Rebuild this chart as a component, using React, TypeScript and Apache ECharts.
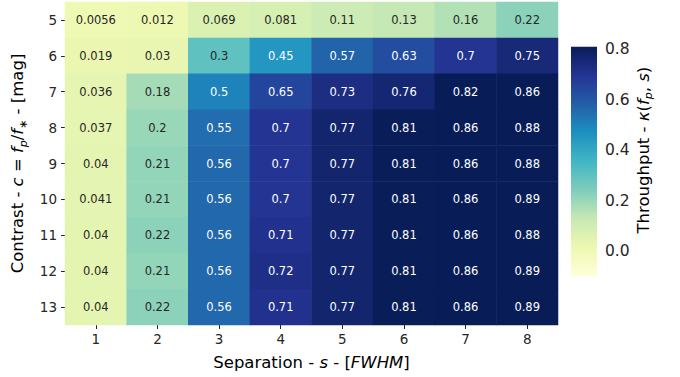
import React, { useEffect, useRef } from "react";
import * as echarts from "echarts";

const separations = ["1", "2", "3", "4", "5", "6", "7", "8"];
const contrasts = ["5", "6", "7", "8", "9", "10", "11", "12", "13"];
const throughput: number[][] = [
  [0.0056, 0.012, 0.069, 0.081, 0.11, 0.13, 0.16, 0.22],
  [0.019, 0.03, 0.3, 0.45, 0.57, 0.63, 0.7, 0.75],
  [0.036, 0.18, 0.5, 0.65, 0.73, 0.76, 0.82, 0.86],
  [0.037, 0.2, 0.55, 0.7, 0.77, 0.81, 0.86, 0.88],
  [0.04, 0.21, 0.56, 0.7, 0.77, 0.81, 0.86, 0.88],
  [0.041, 0.21, 0.56, 0.7, 0.77, 0.81, 0.86, 0.89],
  [0.04, 0.22, 0.56, 0.71, 0.77, 0.81, 0.86, 0.88],
  [0.04, 0.21, 0.56, 0.72, 0.77, 0.81, 0.86, 0.89],
  [0.04, 0.22, 0.56, 0.71, 0.77, 0.81, 0.86, 0.89],
];
const vMin = -0.1;
const vMax = 0.81;
const ylgnbu = [
  "#ffffd9", "#edf8b1", "#c7e9b4", "#7fcdbb", "#41b6c4",
  "#1d91c0", "#225ea8", "#253494", "#081d58",
];

const FONT = "DejaVu Sans";
const DARK = "#262626";
const MAP_MAX = 1.0;

function cellColor(v: number): string {
  const t = Math.min(1, Math.max(0, (v - vMin) / (vMax - vMin)));
  return echarts.color.lerp(t, ylgnbu) as string;
}
function luminance(c: string): number {
  const arr = echarts.color.parse(c) as number[];
  const lin = arr.slice(0, 3).map((x) => {
    const s = x / 255;
    return s <= 0.03928 ? s / 12.92 : Math.pow((s + 0.055) / 1.055, 2.4);
  });
  return 0.2126 * lin[0] + 0.7152 * lin[1] + 0.0722 * lin[2];
}
function fmt(v: number): string {
  return parseFloat(v.toPrecision(2)).toString();
}

const richBase = (size: number, sub: number) => ({
  n: { fontSize: size, fontFamily: FONT, color: "#000", lineHeight: 22 },
  i: { fontSize: size, fontFamily: FONT, color: "#000", fontStyle: "italic", lineHeight: 22 },
  s: {
    fontSize: sub,
    fontFamily: FONT,
    color: "#000",
    fontStyle: "italic",
    lineHeight: 12,
    verticalAlign: "bottom",
  },
});

export default function App() {
  const ref = useRef<HTMLDivElement>(null);
  useEffect(() => {
    if (!ref.current) return;
    const chart = echarts.init(ref.current, null, { renderer: "svg" });
    const data: any[] = [];
    throughput.forEach((row, r) => {
      row.forEach((v, c) => {
        const col = cellColor(v);
        data.push({
          value: [c, r, v],
          label: { color: luminance(col) > 0.408 ? DARK : "#ffffff" },
        });
      });
    });
    // colour list sampled over [vMin, MAP_MAX], clamped at vMax (like matplotlib)
    const N = 200;
    const mapColors: string[] = [];
    for (let k = 0; k <= N; k++) {
      mapColors.push(cellColor(vMin + ((MAP_MAX - vMin) * k) / N));
    }
    const option: any = {
      animation: false,
      backgroundColor: "#ffffff",
      textStyle: { fontFamily: FONT },
      visualMap: {
        type: "continuous",
        show: false,
        seriesIndex: 0,
        dimension: 2,
        min: vMin,
        max: MAP_MAX,
        inRange: { color: mapColors },
      },
      grid: [
        { left: 65, right: 122, top: 2, bottom: 52 },
        { left: 571, width: 26, top: 49.3, height: 201.7 },
      ],
      xAxis: [
        {
          type: "category",
          gridIndex: 0,
          data: separations,
          axisLine: { show: false },
          axisTick: { show: true, alignWithLabel: true, length: 4, lineStyle: { color: DARK } },
          axisLabel: { fontSize: 13.5, color: DARK, fontFamily: FONT, margin: 7 },
          splitLine: { show: false },
          name: "{n|Separation - }{i|s}{n| - [}{i|FWHM}{n|]}",
          nameLocation: "middle",
          nameGap: 26,
          nameTextStyle: { rich: richBase(16.5, 11) },
        },
        {
          type: "value",
          gridIndex: 1,
          min: 0,
          max: 1,
          show: false,
        },
      ],
      yAxis: [
        {
          type: "category",
          gridIndex: 0,
          data: contrasts,
          inverse: true,
          axisLine: { show: false },
          axisTick: { show: true, alignWithLabel: true, length: 4, lineStyle: { color: DARK } },
          axisLabel: { fontSize: 13.5, color: DARK, fontFamily: FONT, margin: 8 },
          splitLine: { show: false },
          name: "{n|Contrast - }{i|c}{n| = }{i|f}{s|p}{n|/}{i|f}{s|∗}{n| - [mag]}",
          nameLocation: "middle",
          nameRotate: 90,
          nameGap: 35,
          nameTextStyle: { rich: richBase(16.5, 11) },
        },
        {
          type: "value",
          gridIndex: 1,
          position: "right",
          min: 0,
          max: 0.8,
          interval: 0.2,
          axisLine: { show: false },
          axisTick: { show: true, length: 4, lineStyle: { color: DARK } },
          axisLabel: {
            fontSize: 15.5,
            color: DARK,
            fontFamily: FONT,
            margin: 8,
            formatter: (v: number) => v.toFixed(1),
          },
          splitLine: { show: false },
          name: "{n|Throughput - }{i|κ}{n|(}{i|f}{s|p}{n|, }{i|s}{n|)}",
          nameLocation: "middle",
          nameRotate: 90,
          nameGap: 35,
          nameTextStyle: { rich: richBase(16.5, 11) },
        },
      ],
      series: [
        {
          type: "heatmap",
          xAxisIndex: 0,
          yAxisIndex: 0,
          data,
          label: {
            show: true,
            fontSize: 11.5,
            fontFamily: FONT,
            formatter: (p: any) => fmt(p.value[2]),
          },
          itemStyle: { borderWidth: 0 },
          emphasis: { disabled: true },
        },
        {
          type: "custom",
          xAxisIndex: 1,
          yAxisIndex: 1,
          clip: false,
          silent: true,
          data: [[0]],
          renderItem: (params: any, api: any) => {
            const pTop = api.coord([0, vMax]);
            const pBot = api.coord([1, vMin]);
            const stops = ylgnbu.map((c, k) => ({ offset: k / (ylgnbu.length - 1), color: c }));
            return {
              type: "rect",
              shape: {
                x: pTop[0],
                y: pTop[1],
                width: pBot[0] - pTop[0],
                height: pBot[1] - pTop[1],
              },
              style: {
                fill: new echarts.graphic.LinearGradient(0, 1, 0, 0, stops),
              },
            };
          },
        },
      ],
    };
    chart.setOption(option);
    return () => chart.dispose();
  }, []);
  return <div ref={ref} style={{ width: 680, height: 377, position: "absolute", left: 0, top: 0 }} />;
}
